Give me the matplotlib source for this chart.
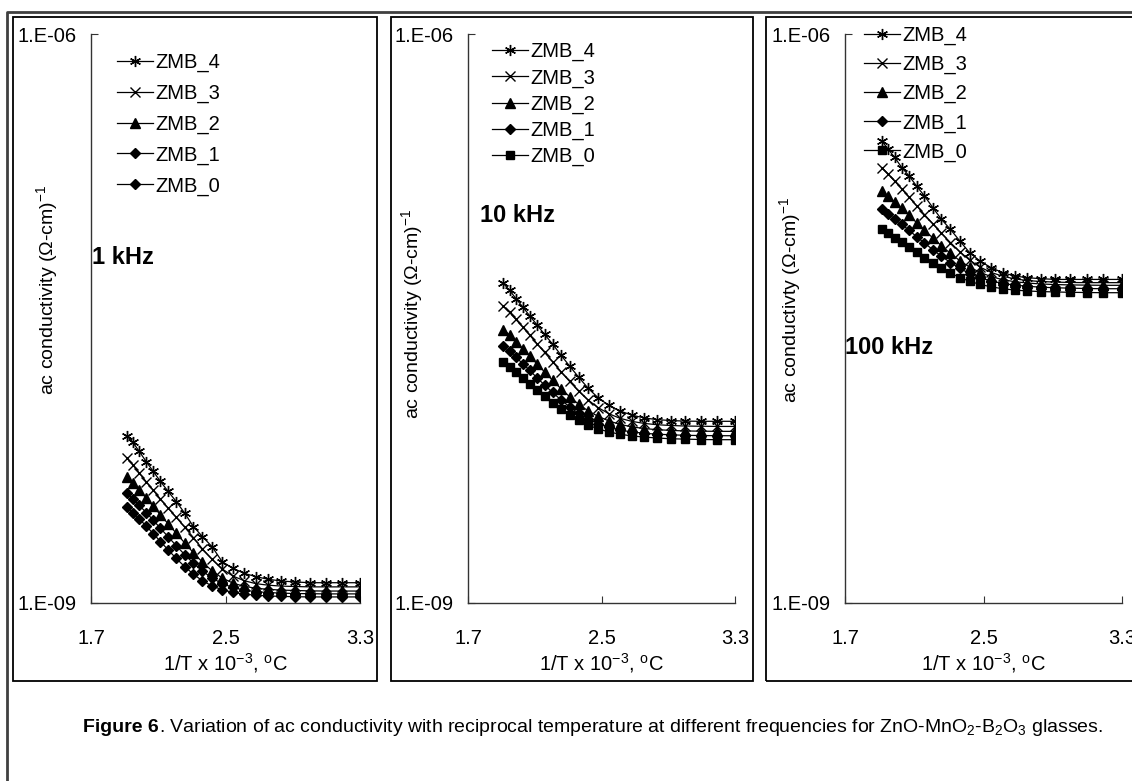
import matplotlib
matplotlib.use("Agg")
import matplotlib.pyplot as plt
from matplotlib.lines import Line2D
from matplotlib.patches import Rectangle

plt.rcParams['font.family'] = ['Liberation Sans', 'DejaVu Sans']
plt.rcParams['mathtext.fontset'] = 'custom'
plt.rcParams['mathtext.rm'] = 'Liberation Sans'
plt.rcParams['mathtext.it'] = 'Liberation Sans:italic'
plt.rcParams['mathtext.bf'] = 'Liberation Sans:bold'

W, H = 1132, 781

# 1/T x 10^-3 (one point every 10 degrees, 250 C down to 30 C)
inv_T = [1.912, 1.949, 1.987, 2.028, 2.070, 2.113, 2.159, 2.207, 2.257, 2.309,
         2.363, 2.420, 2.480, 2.544, 2.610, 2.680, 2.754, 2.832, 2.914, 3.002,
         3.095, 3.193, 3.299]

series = ["ZMB_4", "ZMB_3", "ZMB_2", "ZMB_1", "ZMB_0"]
freqs = ["1 kHz", "10 kHz", "100 kHz"]

# log10 of ac conductivity
zmb4_1k = [-8.118, -8.153, -8.201, -8.254, -8.306, -8.359, -8.412, -8.465, -8.526, -8.597,
           -8.650, -8.703, -8.782, -8.817, -8.843, -8.861, -8.875, -8.884, -8.889, -8.893,
           -8.893, -8.893, -8.893]
zmb3_1k = [-8.234, -8.272, -8.315, -8.360, -8.405, -8.452, -8.500, -8.548, -8.600, -8.655,
           -8.715, -8.770, -8.820, -8.858, -8.882, -8.898, -8.906, -8.911, -8.913, -8.915,
           -8.915, -8.915, -8.915]
zmb2_1k = [-8.334, -8.368, -8.405, -8.446, -8.490, -8.535, -8.583, -8.632, -8.683, -8.735,
           -8.785, -8.830, -8.868, -8.895, -8.912, -8.922, -8.928, -8.932, -8.934, -8.936,
           -8.937, -8.937, -8.937]
zmb1_1k = [-8.419, -8.450, -8.485, -8.523, -8.563, -8.606, -8.651, -8.698, -8.745, -8.790,
           -8.832, -8.868, -8.898, -8.918, -8.932, -8.940, -8.945, -8.948, -8.950, -8.951,
           -8.952, -8.952, -8.952]
zmb0_1k = [-8.493, -8.523, -8.557, -8.594, -8.634, -8.676, -8.720, -8.765, -8.808, -8.848,
           -8.883, -8.910, -8.930, -8.944, -8.953, -8.959, -8.963, -8.965, -8.967, -8.968,
           -8.968, -8.968, -8.968]

zmb4_10k = [-7.315, -7.351, -7.395, -7.439, -7.486, -7.533, -7.584, -7.635, -7.693, -7.751,
            -7.809, -7.868, -7.918, -7.958, -7.987, -8.009, -8.024, -8.033, -8.038, -8.041,
            -8.042, -8.042, -8.042]
zmb3_10k = [-7.435, -7.468, -7.505, -7.545, -7.588, -7.632, -7.679, -7.728, -7.780, -7.832,
            -7.883, -7.930, -7.970, -8.002, -8.026, -8.042, -8.053, -8.060, -8.064, -8.067,
            -8.068, -8.069, -8.069]
zmb2_10k = [-7.558, -7.588, -7.622, -7.659, -7.698, -7.739, -7.782, -7.826, -7.870, -7.912,
            -7.952, -7.987, -8.016, -8.040, -8.058, -8.071, -8.080, -8.086, -8.090, -8.093,
            -8.094, -8.095, -8.095]
zmb1_10k = [-7.646, -7.673, -7.704, -7.738, -7.774, -7.812, -7.851, -7.890, -7.929, -7.966,
            -8.000, -8.030, -8.055, -8.074, -8.088, -8.098, -8.105, -8.110, -8.113, -8.116,
            -8.117, -8.118, -8.118]
zmb0_10k = [-7.731, -7.755, -7.782, -7.812, -7.844, -7.877, -7.911, -7.945, -7.978, -8.009,
            -8.037, -8.062, -8.082, -8.098, -8.110, -8.119, -8.125, -8.130, -8.134, -8.136,
            -8.138, -8.139, -8.139]

zmb4_100k = [-6.563, -6.607, -6.651, -6.704, -6.748, -6.801, -6.854, -6.915, -6.977, -7.030,
             -7.091, -7.153, -7.197, -7.232, -7.258, -7.276, -7.285, -7.290, -7.294, -7.294,
             -7.294, -7.294, -7.294]
zmb3_100k = [-6.704, -6.738, -6.776, -6.817, -6.860, -6.905, -6.952, -7.000, -7.050, -7.100,
             -7.148, -7.192, -7.229, -7.257, -7.277, -7.291, -7.300, -7.305, -7.308, -7.310,
             -7.311, -7.311, -7.311]
zmb2_100k = [-6.827, -6.855, -6.886, -6.920, -6.956, -6.994, -7.034, -7.075, -7.116, -7.157,
             -7.195, -7.229, -7.257, -7.279, -7.295, -7.306, -7.313, -7.318, -7.321, -7.323,
             -7.324, -7.325, -7.325]
zmb1_100k = [-6.924, -6.948, -6.975, -7.004, -7.035, -7.068, -7.102, -7.137, -7.172, -7.205,
             -7.236, -7.263, -7.285, -7.302, -7.315, -7.324, -7.330, -7.335, -7.338, -7.340,
             -7.342, -7.343, -7.343]
zmb0_100k = [-7.030, -7.050, -7.073, -7.098, -7.124, -7.151, -7.179, -7.207, -7.234, -7.260,
             -7.284, -7.304, -7.320, -7.333, -7.343, -7.350, -7.355, -7.358, -7.360, -7.362,
             -7.363, -7.364, -7.364]

panel_data = [
    [zmb4_1k, zmb3_1k, zmb2_1k, zmb1_1k, zmb0_1k],
    [zmb4_10k, zmb3_10k, zmb2_10k, zmb1_10k, zmb0_10k],
    [zmb4_100k, zmb3_100k, zmb2_100k, zmb1_100k, zmb0_100k],
]
ylabels = ["ac conductivity ($\\Omega$-cm)$^{-1}$",
           "ac conductivity ($\\Omega$-cm)$^{-1}$",
           "ac conductivty ($\\Omega$-cm)$^{-1}$"]


def fx(px):
    return px / W


def fy(py):
    return 1 - py / H


star = (6, 2, 0)
markers_std = [star, 'x', '^', 'D', 's']
markers_p1 = [star, 'x', '^', 'D', 'D']
msizes = {star: 8, 'x': 7, '^': 7, 'D': 5.5, 's': 6}

# axes extents in pixels: left, right, top, bottom
axes_px = [(91, 360, 34, 603), (468, 735, 34, 603), (845, 1122, 34, 603)]
legend_px = [(117, 53), (492, 42), (864, 26)]
legend_sp = [0.575, 0.35, 0.49]
freq_px = [(92, 258), (480, 215), (845, 347)]
ylab_px = [(47, 290), (412, 314), (790, 300)]
boxes_px = [(13, 17, 377, 681), (391, 17, 753, 681), (766, 17, 1145, 681)]

fig = plt.figure(figsize=(W / 100, H / 100), dpi=100)

# outer frame (only left and top visible)
fig.add_artist(Line2D([fx(7), fx(7), fx(1140)], [fy(790), fy(12), fy(12)],
                      color='#404040', lw=2, transform=fig.transFigure))
for (x0, y0, x1, y1) in boxes_px:
    fig.add_artist(Rectangle((fx(x0), fy(y1)), (x1 - x0) / W, (y1 - y0) / H,
                             fill=False, edgecolor='black', lw=1.3,
                             transform=fig.transFigure))

for i in range(3):
    l, r, t, b = axes_px[i]
    ax = fig.add_axes([fx(l), fy(b), (r - l) / W, (b - t) / H])
    ax.patch.set_alpha(0)
    mks = markers_p1 if i == 0 else markers_std
    handles = []
    for name, vals, mk in zip(series, panel_data[i], mks):
        yv = [10 ** v for v in vals]
        h, = ax.plot(inv_T, yv, color='black', lw=0.9, marker=mk,
                     markersize=msizes[mk], markeredgewidth=1.0,
                     markerfacecolor='black', markeredgecolor='black', label=name)
        handles.append(h)
    ax.set_yscale('log')
    ax.set_xlim(1.7, 3.3)
    ax.set_ylim(1e-9, 1e-6)
    ax.set_xticks([1.7, 2.5, 3.3])
    ax.set_xticklabels(['1.7', '2.5', '3.3'])
    ax.set_yticks([1e-9, 1e-6])
    ax.set_yticklabels(['1.E-09', '1.E-06'])
    ax.yaxis.set_minor_locator(matplotlib.ticker.NullLocator())
    for s in ['top', 'right']:
        ax.spines[s].set_visible(False)
    for s in ['left', 'bottom']:
        ax.spines[s].set_color('#333333')
        ax.spines[s].set_linewidth(1.0)
    ax.tick_params(axis='x', direction='in', length=5, pad=18.5, labelsize=14.5,
                   color='#333333')
    ax.tick_params(axis='y', direction='in', length=5, pad=10.5, labelsize=14.5,
                   color='#333333')
    ax.set_xlabel('1/T x 10$^{-3}$, $^{\\mathrm{o}}$C', fontsize=14.5)
    ax.xaxis.set_label_coords(0.5, -(663 - b) / (b - t), transform=ax.transAxes)
    ax.xaxis.label.set_va('center')
    ax.set_ylabel(ylabels[i], fontsize=14)
    lx, ly = ylab_px[i]
    ax.yaxis.set_label_coords((lx - l) / (r - l), (b - ly) / (b - t))
    ax.yaxis.label.set_va('center')

    fxp, fyp = freq_px[i]
    fig.text(fx(fxp), fy(fyp), freqs[i], fontsize=17, fontweight='bold',
             ha='left', va='center')

    gx, gy = legend_px[i]
    ax.legend(handles=handles, loc='upper left', bbox_to_anchor=(fx(gx), fy(gy)),
              bbox_transform=fig.transFigure, frameon=False, fontsize=14.5,
              handlelength=1.8, handletextpad=0.1, labelspacing=legend_sp[i],
              borderpad=0, borderaxespad=0)

# caption
t1 = fig.text(fx(83), fy(727), 'Figure 6', fontsize=14, fontweight='bold',
              ha='left', va='center')
fig.canvas.draw()
bb = t1.get_window_extent()
fig.text(bb.x1 / W, fy(727),
         '. Variation of ac conductivity with reciprocal temperature at different '
         'frequencies for ZnO-MnO$_2$-B$_2$O$_3$ glasses.',
         fontsize=14, ha='left', va='center')

fig.savefig('out.png', dpi=100)
